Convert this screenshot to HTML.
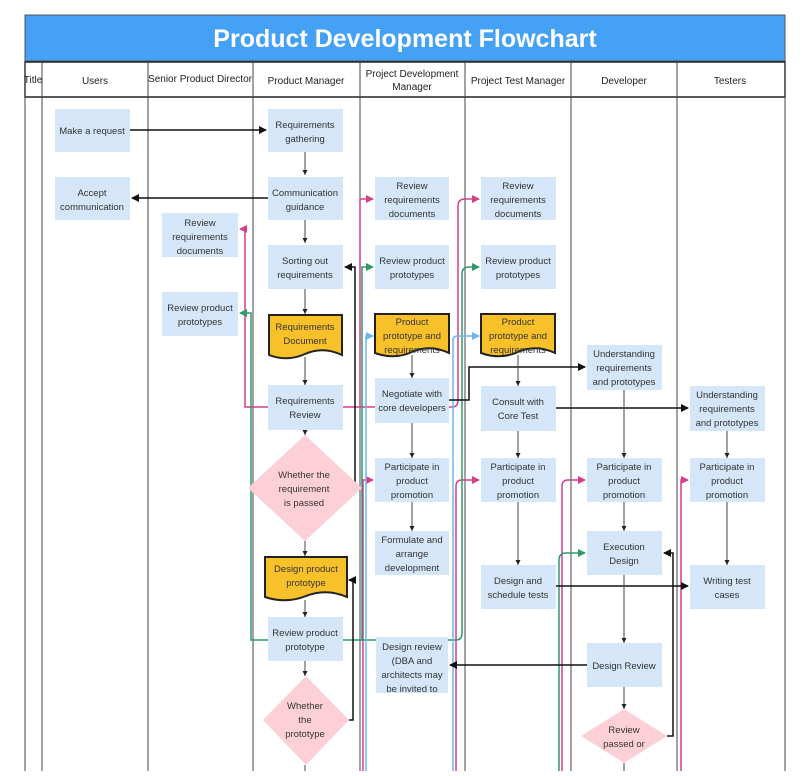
<!DOCTYPE html>
<html><head><meta charset="utf-8"><style>
body{margin:0;background:#fff;}
svg text{font-family:"Liberation Sans",sans-serif;}
</style></head><body>
<svg width="807" height="771" viewBox="0 0 807 771" xmlns="http://www.w3.org/2000/svg">
<defs>
<marker id="ab" markerWidth="8" markerHeight="8" refX="7" refY="4" orient="auto" markerUnits="userSpaceOnUse"><path d="M0,0 L8,4 L0,8z" fill="#111"/></marker>
<marker id="as" markerWidth="5" markerHeight="5" refX="5" refY="2.5" orient="auto" markerUnits="userSpaceOnUse"><path d="M0,0 L5,2.5 L0,5z" fill="#222"/></marker>
<marker id="ap" markerWidth="8" markerHeight="8" refX="7" refY="4" orient="auto" markerUnits="userSpaceOnUse"><path d="M0,0 L8,4 L0,8z" fill="#d63d8b"/></marker>
<marker id="ag" markerWidth="8" markerHeight="8" refX="7" refY="4" orient="auto" markerUnits="userSpaceOnUse"><path d="M0,0 L8,4 L0,8z" fill="#2e9a6a"/></marker>
<marker id="al" markerWidth="8" markerHeight="8" refX="7" refY="4" orient="auto" markerUnits="userSpaceOnUse"><path d="M0,0 L8,4 L0,8z" fill="#6bb6f0"/></marker>
</defs>
<rect x="25" y="15" width="760" height="46" fill="#45a1f5" stroke="#555"/>
<text x="405" y="47" font-size="25" font-weight="bold" fill="#fff" text-anchor="middle">Product Development Flowchart</text>
<rect x="25" y="62" width="760" height="35" fill="#fff" stroke="#222" stroke-width="1.5"/>
<g stroke="#444" stroke-width="1">
<line x1="25" y1="62" x2="25" y2="771"/><line x1="42" y1="62" x2="42" y2="771"/><line x1="148" y1="62" x2="148" y2="771"/><line x1="253" y1="62" x2="253" y2="771"/><line x1="360" y1="62" x2="360" y2="771"/><line x1="465" y1="62" x2="465" y2="771"/><line x1="571" y1="62" x2="571" y2="771"/><line x1="677" y1="62" x2="677" y2="771"/><line x1="785" y1="62" x2="785" y2="771"/>
</g>
<g font-size="10" fill="#222" text-anchor="middle">
<text x="33" y="83">Title</text><text x="95" y="84">Users</text><text x="200" y="82">Senior Product Director</text><text x="306" y="84">Product Manager</text><text x="412" y="77">Project Development</text><text x="412" y="90">Manager</text><text x="518" y="84">Project Test Manager</text><text x="624" y="84">Developer</text><text x="730" y="84">Testers</text>
</g>
<!-- colored connectors -->
<g fill="none" stroke-width="1.5">
<path d="M268,407 H245 V229 H240" stroke="#d63d8b" marker-end="url(#ap)"/>
<path d="M343,407 H452 Q458,407 458,400 V206 Q458,199 465,199 H479" stroke="#d63d8b" marker-end="url(#ap)"/>
<path d="M360,407 V199 H373" stroke="#d63d8b" marker-end="url(#ap)"/>
<path d="M363,771 V480 H373" stroke="#d63d8b" marker-end="url(#ap)"/>
<path d="M456,771 V486 Q456,480 462,480 H479" stroke="#d63d8b" marker-end="url(#ap)"/>
<path d="M562,771 V486 Q562,480 568,480 H585" stroke="#d63d8b" marker-end="url(#ap)"/>
<path d="M681,771 V480 H688" stroke="#d63d8b" marker-end="url(#ap)"/>
<path d="M268,640 H251 V313 H240" stroke="#2e9a6a" marker-end="url(#ag)"/>
<path d="M343,640 H456 Q462,640 462,633 V274 Q462,267 469,267 H479" stroke="#2e9a6a" marker-end="url(#ag)"/>
<path d="M362,640 V267 H373" stroke="#2e9a6a" marker-end="url(#ag)"/>
<path d="M559,771 V560 Q559,553 566,553 H585" stroke="#2e9a6a" marker-end="url(#ag)"/>
<path d="M366,771 V336 H373" stroke="#6bb6f0" marker-end="url(#al)"/>
<path d="M453,771 V340 Q453,336 458,336 H479" stroke="#6bb6f0" marker-end="url(#al)"/>
</g>
<!-- black connectors -->
<g fill="none" stroke="#111" stroke-width="1.5">
<path d="M130,130 H266" marker-end="url(#ab)"/>
<path d="M268,198 H132" marker-end="url(#ab)"/>
<path d="M356,488 H355 V267 H345" marker-end="url(#ab)"/>
<path d="M349,720 H353 V580 H349" marker-end="url(#ab)"/>
<path d="M449,400 H469 V367 H585" marker-end="url(#ab)"/>
<path d="M556,408 H688" marker-end="url(#ab)"/>
<path d="M556,586 H688" marker-end="url(#ab)"/>
<path d="M587,665 H450" marker-end="url(#ab)"/>
<path d="M667,736 H673 V553 H664" marker-end="url(#ab)"/>
</g>
<g fill="none" stroke="#444" stroke-width="1">
<path d="M305,152 V175" marker-end="url(#as)"/><path d="M305,220 V243" marker-end="url(#as)"/><path d="M305,289 V314" marker-end="url(#as)"/><path d="M305,357 V385" marker-end="url(#as)"/><path d="M305,430 V435" marker-end="url(#as)"/><path d="M305,541 V556" marker-end="url(#as)"/><path d="M305,600 V617" marker-end="url(#as)"/><path d="M305,661 V676" marker-end="url(#as)"/><path d="M305,765 V771"/>
<path d="M412,355 V378" marker-end="url(#as)"/><path d="M412,423 V458" marker-end="url(#as)"/><path d="M412,502 V531" marker-end="url(#as)"/>
<path d="M518,355 V386" marker-end="url(#as)"/><path d="M518,431 V458" marker-end="url(#as)"/><path d="M518,502 V565" marker-end="url(#as)"/>
<path d="M624,390 V458" marker-end="url(#as)"/><path d="M624,502 V531" marker-end="url(#as)"/><path d="M624,575 V643" marker-end="url(#as)"/><path d="M624,687 V709" marker-end="url(#as)"/><path d="M624,763 V771"/>
<path d="M727,431 V458" marker-end="url(#as)"/><path d="M727,502 V565" marker-end="url(#as)"/>
</g>
<!-- boxes -->
<g fill="#d4e6f7">
<rect x="55" y="109" width="75" height="43"/><rect x="268" y="109" width="75" height="43"/>
<rect x="55" y="177" width="75" height="43"/><rect x="268" y="177" width="75" height="43"/>
<rect x="375" y="177" width="74" height="43"/><rect x="481" y="177" width="75" height="43"/>
<rect x="162" y="213" width="76" height="44"/>
<rect x="268" y="245" width="75" height="44"/><rect x="375" y="245" width="74" height="44"/><rect x="481" y="245" width="75" height="44"/>
<rect x="162" y="292" width="76" height="44"/>
<rect x="587" y="345" width="75" height="45"/>
<rect x="268" y="385" width="75" height="45"/><rect x="375" y="378" width="74" height="45"/><rect x="481" y="386" width="75" height="45"/><rect x="690" y="386" width="75" height="45"/>
<rect x="375" y="458" width="74" height="44"/><rect x="481" y="458" width="75" height="44"/><rect x="587" y="458" width="75" height="44"/><rect x="690" y="458" width="75" height="44"/>
<rect x="375" y="531" width="74" height="44"/><rect x="587" y="531" width="75" height="44"/>
<rect x="481" y="565" width="75" height="44"/><rect x="690" y="565" width="75" height="44"/>
<rect x="268" y="617" width="75" height="44"/>
<rect x="376" y="637" width="72" height="56"/><rect x="587" y="643" width="75" height="44"/>
</g>
<g fill="#f8c12a" stroke="#222" stroke-width="2">
<path d="M269,315 H342 V355 Q323,346 305,354 Q287,362 269,355 Z"/>
<path d="M375,314 H449 V353 Q430,344 412,352 Q394,360 375,353 Z"/>
<path d="M481,314 H555 V353 Q536,344 518,352 Q500,360 481,353 Z"/>
<path d="M265,557 H347 V597 Q326,588 306,596 Q286,604 265,597 Z"/>
</g>
<g fill="#fdd0d7">
<polygon points="305,435 362,488 305,541 248,488"/>
<polygon points="306,676 349,720 306,765 263,720"/>
<polygon points="624,709 667,736 624,763 581,736"/>
</g>
<g font-size="9.5" fill="#333" text-anchor="middle">
<text x="92" y="134">Make a request</text>
<text x="305" y="128">Requirements</text><text x="305" y="142">gathering</text>
<text x="92" y="196">Accept</text><text x="92" y="210">communication</text>
<text x="305" y="196">Communication</text><text x="305" y="210">guidance</text>
<text x="412" y="189">Review</text><text x="412" y="203">requirements</text><text x="412" y="217">documents</text>
<text x="518" y="189">Review</text><text x="518" y="203">requirements</text><text x="518" y="217">documents</text>
<text x="200" y="226">Review</text><text x="200" y="240">requirements</text><text x="200" y="254">documents</text>
<text x="305" y="264">Sorting out</text><text x="305" y="278">requirements</text>
<text x="412" y="264">Review product</text><text x="412" y="278">prototypes</text>
<text x="518" y="264">Review product</text><text x="518" y="278">prototypes</text>
<text x="200" y="311">Review product</text><text x="200" y="325">prototypes</text>
<text x="305" y="330">Requirements</text><text x="305" y="344">Document</text>
<text x="412" y="325">Product</text><text x="412" y="339">prototype and</text><text x="412" y="353">requirements</text>
<text x="518" y="325">Product</text><text x="518" y="339">prototype and</text><text x="518" y="353">requirements</text>
<text x="624" y="357">Understanding</text><text x="624" y="371">requirements</text><text x="624" y="385">and prototypes</text>
<text x="305" y="404">Requirements</text><text x="305" y="418">Review</text>
<text x="412" y="397">Negotiate with</text><text x="412" y="411">core developers</text>
<text x="518" y="405">Consult with</text><text x="518" y="419">Core Test</text>
<text x="727" y="398">Understanding</text><text x="727" y="412">requirements</text><text x="727" y="426">and prototypes</text>
<text x="304" y="478">Whether the</text><text x="304" y="492">requirement</text><text x="304" y="506">is passed</text>
<text x="412" y="470">Participate in</text><text x="412" y="484">product</text><text x="412" y="498">promotion</text>
<text x="518" y="470">Participate in</text><text x="518" y="484">product</text><text x="518" y="498">promotion</text>
<text x="624" y="470">Participate in</text><text x="624" y="484">product</text><text x="624" y="498">promotion</text>
<text x="727" y="470">Participate in</text><text x="727" y="484">product</text><text x="727" y="498">promotion</text>
<text x="412" y="543">Formulate and</text><text x="412" y="557">arrange</text><text x="412" y="571">development</text>
<text x="624" y="550">Execution</text><text x="624" y="564">Design</text>
<text x="306" y="572">Design product</text><text x="306" y="586">prototype</text>
<text x="518" y="584">Design and</text><text x="518" y="598">schedule tests</text>
<text x="727" y="584">Writing test</text><text x="727" y="598">cases</text>
<text x="305" y="636">Review product</text><text x="305" y="650">prototype</text>
<text x="412" y="650">Design review</text><text x="412" y="664">(DBA and</text><text x="412" y="678">architects may</text><text x="412" y="692">be invited to</text>
<text x="624" y="669">Design Review</text>
<text x="305" y="709">Whether</text><text x="305" y="723">the</text><text x="305" y="737">prototype</text>
<text x="624" y="733">Review</text><text x="624" y="747">passed or</text>
</g>
</svg>
</body></html>
